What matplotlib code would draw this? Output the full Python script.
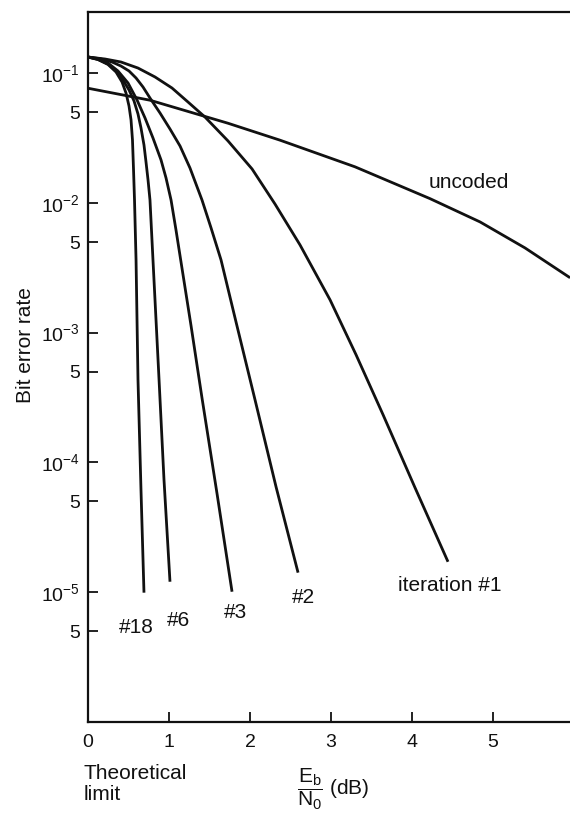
import matplotlib
matplotlib.use("Agg")
import matplotlib.pyplot as plt
from matplotlib.ticker import FixedLocator, FixedFormatter, NullLocator

plt.rcParams['font.family'] = ['Liberation Sans', 'DejaVu Sans']
plt.rcParams['mathtext.fontset'] = 'custom'
plt.rcParams['mathtext.rm'] = 'Liberation Sans'
plt.rcParams['mathtext.it'] = 'Liberation Sans'
plt.rcParams['mathtext.default'] = 'rm'

# Eb/N0 (dB) and bit error rate
uncoded_x = [0.0, 0.765, 1.728, 2.370, 3.296, 4.222, 4.840, 5.395, 5.951]
uncoded_y = [0.0767, 0.0620, 0.0412, 0.0305, 0.0190, 0.0108, 0.00714, 0.00450, 0.00265]

it1_x = [0.0, 0.210, 0.407, 0.617, 0.827, 1.037, 1.235, 1.444, 1.728, 2.025,
         2.309, 2.617, 2.988, 3.309, 3.642, 4.037, 4.444]
it1_y = [0.1335, 0.1289, 0.1222, 0.1098, 0.0937, 0.0770, 0.0600, 0.0460, 0.0301, 0.0183,
         0.0098, 0.00475, 0.00179, 6.75e-4, 2.33e-4, 6.37e-5, 1.71e-5]

it2_x = [0.0, 0.148, 0.296, 0.407, 0.506, 0.593, 0.679, 0.765, 0.889, 1.012,
         1.136, 1.259, 1.407, 1.519, 1.642, 1.827, 2.062, 2.321, 2.593]
it2_y = [0.1335, 0.1296, 0.1222, 0.1138, 0.1042, 0.0920, 0.0784, 0.0645, 0.0494, 0.0372,
         0.0275, 0.0186, 0.01055, 0.00642, 0.00364, 0.00121, 3.03e-4, 6.48e-5, 1.41e-5]

it3_x = [0.0, 0.123, 0.247, 0.370, 0.494, 0.605, 0.704, 0.802, 0.901, 0.963,
         1.025, 1.086, 1.148, 1.272, 1.407, 1.593, 1.778]
it3_y = [0.1335, 0.1289, 0.1200, 0.1042, 0.0842, 0.0623, 0.0452, 0.0317, 0.0215, 0.0156,
         0.01055, 0.00620, 0.00351, 0.00113, 3.14e-4, 5.72e-5, 1.005e-5]

it6_x = [0.0, 0.123, 0.247, 0.346, 0.432, 0.506, 0.568, 0.617, 0.654, 0.691,
         0.716, 0.741, 0.765, 0.802, 0.877, 0.938, 1.012]
it6_y = [0.1335, 0.1278, 0.1179, 0.1042, 0.0888, 0.0744, 0.0612, 0.0486, 0.0379, 0.0280,
         0.0207, 0.01505, 0.01055, 0.00364, 4.33e-4, 7.34e-5, 1.20e-5]

it18_x = [0.0, 0.123, 0.247, 0.346, 0.420, 0.469, 0.506, 0.531, 0.549, 0.562,
          0.574, 0.593, 0.617, 0.654, 0.691]
it18_y = [0.1335, 0.1278, 0.1169, 0.1023, 0.0857, 0.0705, 0.0560, 0.0437, 0.0306, 0.0180,
          0.01055, 0.00364, 4.33e-4, 6.14e-5, 9.88e-6]

curve_labels = ['uncoded', 'iteration #1', '#2', '#3', '#6', '#18']
label_x = [4.70, 4.47, 2.654, 1.815, 1.111, 0.593]
label_y = [0.01427, 1.12e-5, 9.0e-6, 6.9e-6, 6.0e-6, 5.3e-6]

ytick_vals = [1e-1, 5e-2, 1e-2, 5e-3, 1e-3, 5e-4, 1e-4, 5e-5, 1e-5, 5e-6]
ytick_labels = ['$10^{-1}$', '5', '$10^{-2}$', '5', '$10^{-3}$', '5',
                '$10^{-4}$', '5', '$10^{-5}$', '5']
xtick_vals = [0, 1, 2, 3, 4, 5]

fig = plt.figure(figsize=(5.7, 8.16), dpi=100)
ax = fig.add_axes([0.1544, 0.1156, 0.8456, 0.8697])

lc = '#111111'
for xs, ys in [(uncoded_x, uncoded_y), (it1_x, it1_y), (it2_x, it2_y),
               (it3_x, it3_y), (it6_x, it6_y), (it18_x, it18_y)]:
    ax.plot(xs, ys, color=lc, lw=2.0, solid_capstyle='butt', solid_joinstyle='round')

for t, x, y in zip(curve_labels, label_x, label_y):
    ax.text(x, y, t, ha='center', va='center', fontsize=15, color=lc)

ax.set_yscale('log')
ax.set_xlim(0, 5.95)
ax.set_ylim(1e-6, 0.297)

ax.yaxis.set_major_locator(FixedLocator(ytick_vals))
ax.yaxis.set_major_formatter(FixedFormatter(ytick_labels))
ax.yaxis.set_minor_locator(NullLocator())
ax.set_xticks(xtick_vals)
ax.set_xticklabels([str(v) for v in xtick_vals])

ax.tick_params(axis='both', direction='in', length=7, width=1.3, colors=lc, labelsize=14)
ax.tick_params(axis='y', pad=6)
ax.tick_params(axis='x', pad=9)

for side in ['left', 'bottom', 'top']:
    ax.spines[side].set_linewidth(1.6)
    ax.spines[side].set_color(lc)
ax.spines['right'].set_visible(False)

ax.set_ylabel('Bit error rate', fontsize=15, color=lc)
ax.yaxis.set_label_coords(-0.11, 0.53)

fig.text(84 / 570, 1 - 764 / 816, 'Theoretical\nlimit', ha='left', va='top',
         fontsize=15, color=lc, linespacing=1.1)
fig.text(333 / 570, 1 - 789 / 816, r'$\dfrac{E_b}{N_0}$ (dB)', ha='center', va='center',
         fontsize=15, color=lc)

fig.savefig('out.png', dpi=100, facecolor='white')
